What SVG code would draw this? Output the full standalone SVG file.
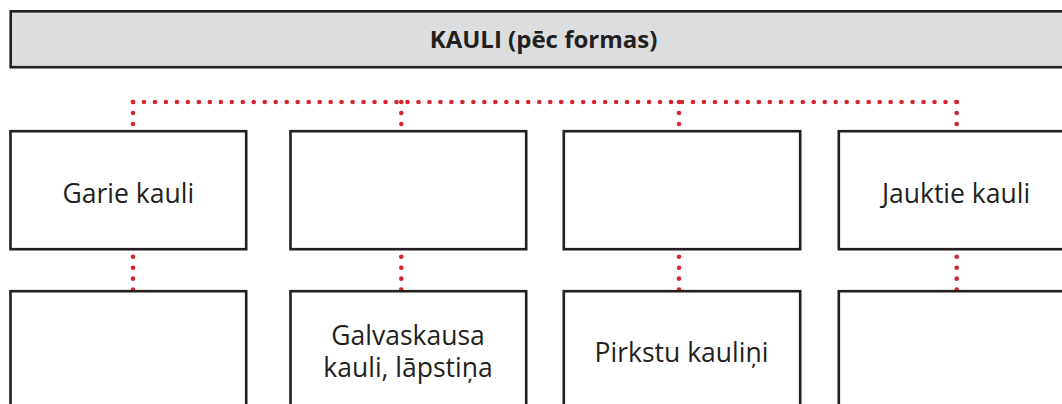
<svg xmlns="http://www.w3.org/2000/svg" width="1062" height="404" viewBox="0 0 1062 404">
<style>
.box{fill:#ffffff;stroke:#231f20;stroke-width:2.6}
.bar{fill:#dcdddf;stroke:#231f20;stroke-width:2.6}
.lbl{font-family:"Open Sans","Liberation Sans",sans-serif;font-size:26.5px;fill:#231f20;text-anchor:middle}
.ttl{font-family:"Open Sans","Liberation Sans",sans-serif;font-size:24px;font-weight:bold;fill:#231f20;text-anchor:middle}
.dot{fill:none;stroke:#d6262d;stroke-width:4.6;stroke-linecap:round;stroke-dasharray:0 10.98}
</style>
<rect width="1062" height="404" fill="#ffffff"/>
<g id="title">
<rect class="bar" x="10.7" y="11.3" width="1070" height="55.9"/>
<text class="ttl" x="543.5" y="48">KAULI (pēc formas)</text>
</g>
<g id="connectors">
<path class="dot" d="M133 102 H956.7"/>
<path class="dot" d="M133 102 V131"/>
<path class="dot" d="M401.3 102 V131"/>
<path class="dot" d="M679 102 V131"/>
<path class="dot" d="M956.7 102 V131"/>
<path class="dot" d="M133 256.7 V291"/>
<path class="dot" d="M401.3 256.7 V291"/>
<path class="dot" d="M679 256.7 V291"/>
<path class="dot" d="M956.7 256.7 V291"/>
</g>
<g id="garie">
<rect class="box" x="10.5" y="131.2" width="235.7" height="118"/>
<text class="lbl" x="128.3" y="202.5">Garie kauli</text>
</g>
<g id="plakanie">
<rect class="box" x="290.5" y="131.2" width="235.7" height="118"/>
</g>
<g id="isie">
<rect class="box" x="563.8" y="131.2" width="236.4" height="118"/>
</g>
<g id="jauktie">
<rect class="box" x="838.8" y="131.2" width="236" height="118"/>
<text class="lbl" x="956" y="202.5">Jauktie kauli</text>
</g>
<g id="piemers1">
<rect class="box" x="10.5" y="291.2" width="235.7" height="130"/>
</g>
<g id="galvaskausa">
<rect class="box" x="290.5" y="291.2" width="235.7" height="130"/>
<text class="lbl" x="408" y="344.5">Galvaskausa</text>
<text class="lbl" x="408" y="377">kauli, lāpstiņa</text>
</g>
<g id="pirkstu">
<rect class="box" x="563.8" y="291.2" width="236.4" height="130"/>
<text class="lbl" x="681.5" y="362">Pirkstu kauliņi</text>
</g>
<g id="piemers4">
<rect class="box" x="838.8" y="291.2" width="236" height="130"/>
</g>
</svg>
